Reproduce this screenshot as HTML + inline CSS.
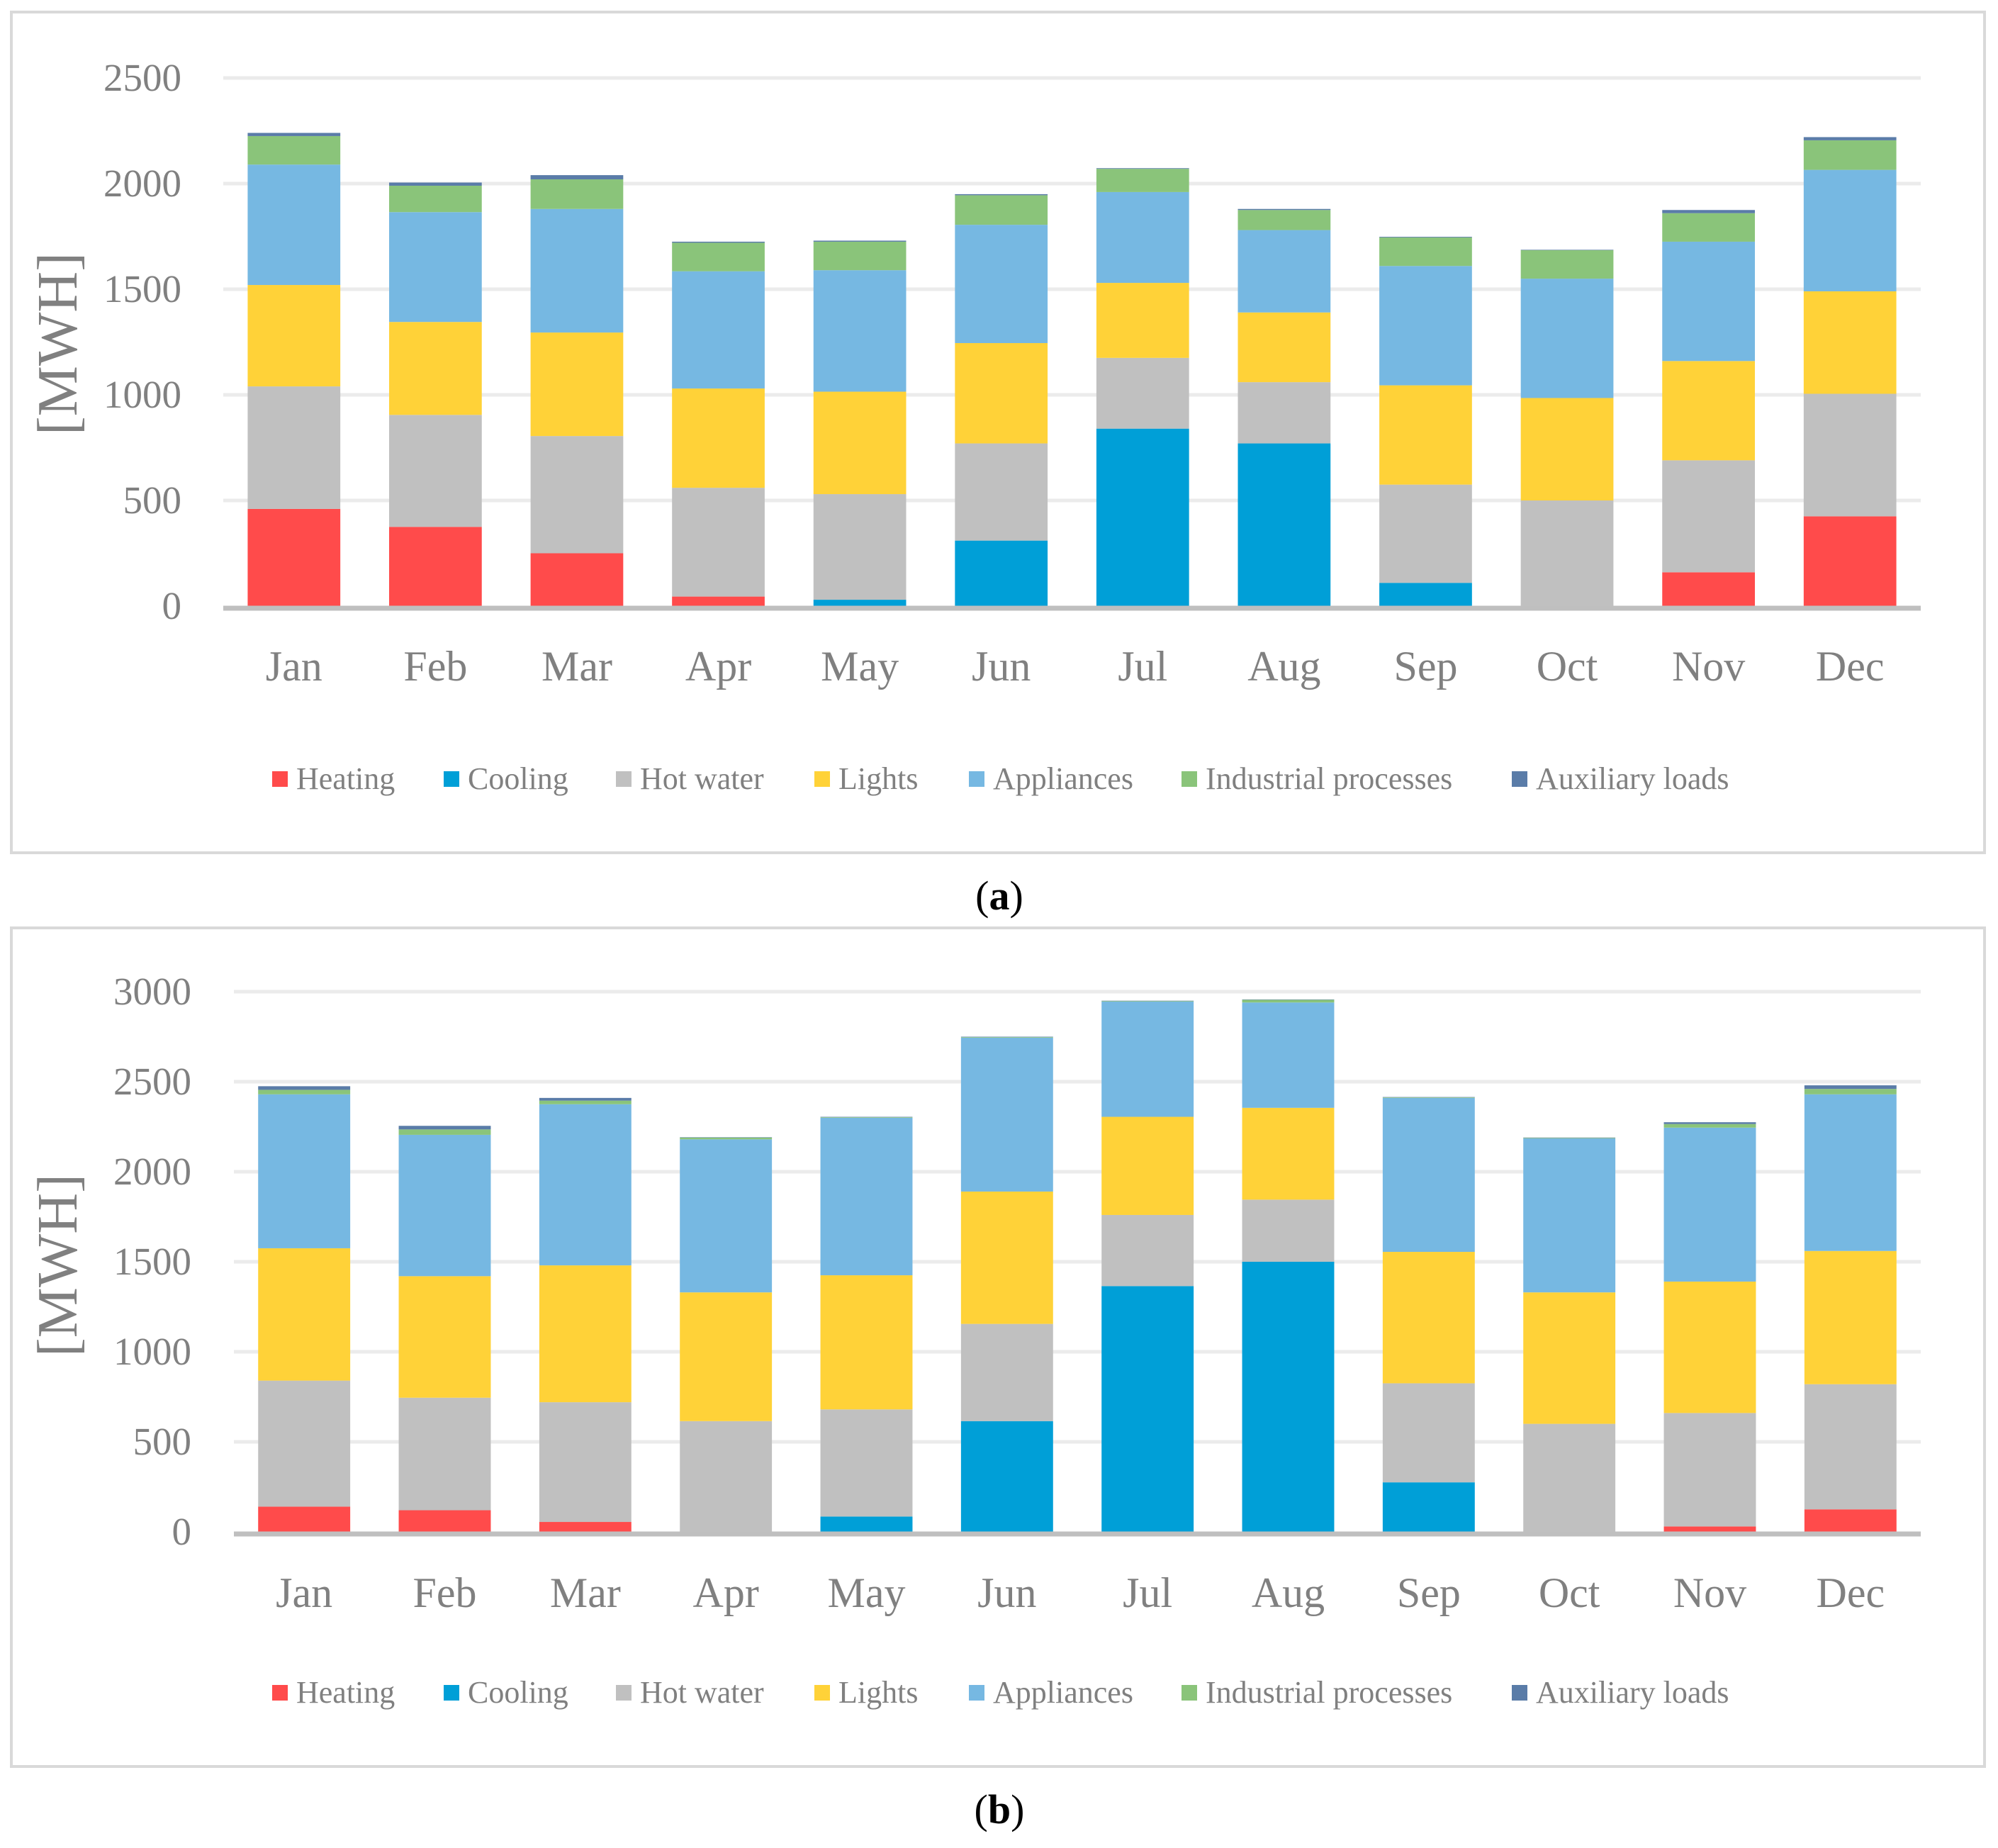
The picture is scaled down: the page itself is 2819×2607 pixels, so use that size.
<!DOCTYPE html>
<html><head><meta charset="utf-8"><style>
html,body{margin:0;padding:0;background:#fff;}
svg{display:block;}
text{font-family:"Liberation Serif",serif;}
</style></head><body>
<svg id="fig" width="2819" height="2607" viewBox="0 0 2819 2607" xmlns="http://www.w3.org/2000/svg">
<rect x="16" y="17" width="2784" height="1186" fill="#fff" stroke="#d9d9d9" stroke-width="4"/>
<rect x="16" y="1309" width="2784" height="1183" fill="#fff" stroke="#d9d9d9" stroke-width="4"/>
<g id="chartA"></g>
<g id="chartB"></g>
<text x="1410" y="1283" text-anchor="middle" font-size="58" fill="#000">(<tspan font-weight="bold">a</tspan>)</text>
<text x="1410" y="2572" text-anchor="middle" font-size="58" fill="#000">(<tspan font-weight="bold">b</tspan>)</text>
</svg>
<script>
const months = ["Jan","Feb","Mar","Apr","May","Jun","Jul","Aug","Sep","Oct","Nov","Dec"];
const seriesNames = ["Heating","Cooling","Hot water","Lights","Appliances","Industrial processes","Auxiliary loads"];
const seriesColors = ["#FF4B4B","#009FD7","#C0C0C0","#FFD238","#76B8E2","#8AC47A","#5A7CA8"];
const ticksA = [0,500,1000,1500,2000,2500];
const ticksB = [0,500,1000,1500,2000,2500,3000];
const heatingA = [460,375,250,45,0,0,0,0,0,0,160,425];
const coolingA = [0,0,0,0,30,310,840,770,110,0,0,0];
const hotWaterA = [580,530,555,515,500,460,335,290,465,500,530,580];
const lightsA = [480,440,490,470,485,475,355,330,470,485,470,485];
const appliancesA = [570,520,585,555,575,560,430,390,565,565,565,575];
const industrialA = [135,125,140,135,135,140,110,95,135,135,135,140];
const auxiliaryA = [15,15,20,5,5,5,3,5,3,2,15,15];
const heatingB = [140,120,55,0,0,0,0,0,0,0,30,125];
const coolingB = [0,0,0,0,85,615,1365,1500,275,0,0,0];
const hotWaterB = [700,625,665,615,595,540,395,345,550,600,630,695];
const lightsB = [735,675,760,715,745,735,545,510,730,730,730,740];
const appliancesB = [855,785,895,850,875,855,640,585,855,855,855,870];
const industrialB = [25,30,20,10,3,3,3,15,3,3,20,30];
const auxiliaryB = [20,20,15,2,2,2,2,2,2,2,10,20];

const NS="http://www.w3.org/2000/svg";
function mk(tag,attrs,parent){const e=document.createElementNS(NS,tag);for(const k in attrs)e.setAttribute(k,attrs[k]);parent.appendChild(e);return e;}

function draw(g,cfg,series,ticks){
  const yMax=ticks[ticks.length-1];
  const y=v=>cfg.y0-(v/yMax)*(cfg.y0-cfg.yTop);
  const step=(cfg.x1-cfg.x0)/months.length;
  const bw=step*0.655;
  const xc=i=>cfg.x0+step*(i+0.5);
  ticks.forEach(t=>{
    if(t>0){const l=mk("line",{x1:cfg.x0,x2:cfg.x1,y1:y(t),y2:y(t),stroke:"#ebebeb","stroke-width":5},g);
    
    }
    const tx=mk("text",{x:cfg.tickX,y:y(t)+18,"text-anchor":"end","font-size":55,fill:"#808080"},g);
    tx.textContent=t;
    
    
  });
  months.forEach((m,i)=>{
    let base=0;
    series.forEach((arr,s)=>{
      const v=arr[i];
      if(v>0){
        const r=mk("rect",{x:xc(i)-bw/2,y:y(base+v),width:bw,height:y(base)-y(base+v),fill:seriesColors[s]},g);
        
        
      }
      base+=v;
    });
    const t=mk("text",{x:xc(i),y:cfg.monthY,"text-anchor":"middle","font-size":60,fill:"#808080"},g);
    t.textContent=m;
    
    
  });
  const ax=mk("line",{x1:cfg.x0,x2:cfg.x1,y1:cfg.y0+3,y2:cfg.y0+3,stroke:"#bfbfbf","stroke-width":7},g);
  
  
  const yt=mk("text",{x:0,y:0,"text-anchor":"middle","font-size":80,fill:"#808080",transform:`translate(${cfg.titleX},${cfg.titleY}) rotate(-90)`},g);
  yt.textContent="[MWH]";
  
  
  const lx=[384,626,869,1149,1367,1667,2133];
  seriesNames.forEach((n,s)=>{
    const lg=mk("g",{},g);
    
    
    mk("rect",{x:lx[s],y:cfg.legendY-11,width:22,height:22,fill:seriesColors[s]},lg);
    const t=mk("text",{x:lx[s]+34,y:cfg.legendY+14,"font-size":44,fill:"#808080"},lg);
    t.textContent=n;
  });
}
draw(document.getElementById("chartA"),{x0:315,x1:2710,y0:855,yTop:110,tickX:256,monthY:960,titleX:108,titleY:485,legendY:1099},
  [heatingA,coolingA,hotWaterA,lightsA,appliancesA,industrialA,auxiliaryA],ticksA);
draw(document.getElementById("chartB"),{x0:330,x1:2710,y0:2161,yTop:1399,tickX:270,monthY:2267,titleX:108,titleY:1785,legendY:2388},
  [heatingB,coolingB,hotWaterB,lightsB,appliancesB,industrialB,auxiliaryB],ticksB);
</script>
</body></html>
